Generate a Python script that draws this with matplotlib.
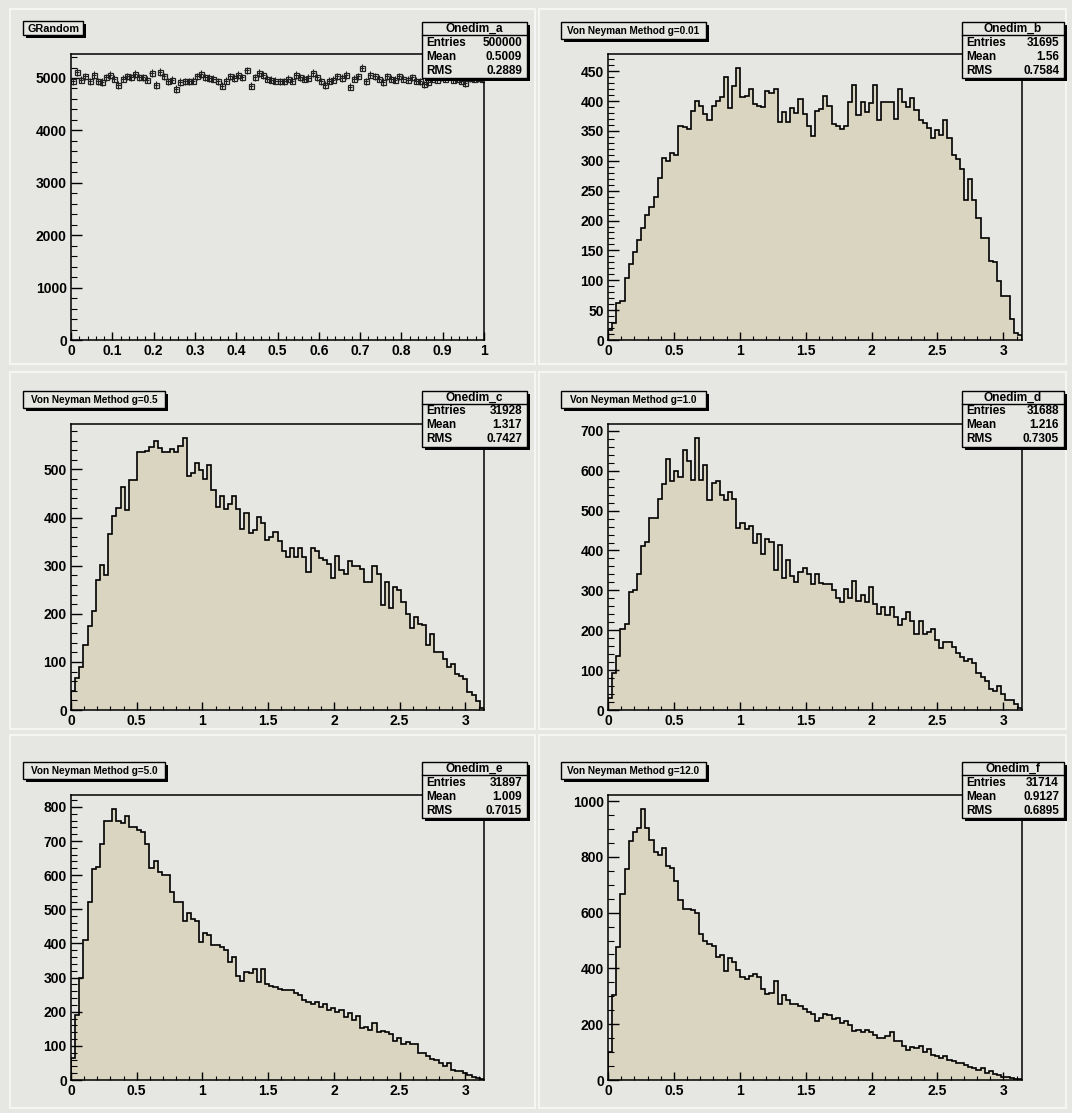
import numpy as np
import matplotlib
matplotlib.use('Agg')
import matplotlib.pyplot as plt
from matplotlib.patches import Rectangle
from matplotlib.ticker import MultipleLocator, FuncFormatter

plt.rcParams['font.family'] = ['Liberation Sans', 'DejaVu Sans']
plt.rcParams['font.weight'] = 'bold'

W, H = 1072, 1113
BG = '#e6e6e3'
FILL = '#d9d5c0'

# ---------------- data (bin contents) ----------------
onedim_a = [4934, 5119, 4967, 5033, 4934, 5053, 4934, 4921, 5013, 5053,
            4987, 4868, 4987, 5033, 5013, 5079, 5013, 5013, 4967, 5099,
            4868, 5119, 5033, 4934, 4967, 4789, 4921, 4934, 4934, 4947,
            5033, 5079, 5013, 5000, 4987, 4934, 4855, 4947, 5033, 5000,
            5053, 5013, 5145, 4855, 5013, 5099, 5053, 4987, 4967, 4947,
            4934, 4934, 4987, 4947, 5053, 5013, 4987, 5000, 5099, 5013,
            4934, 4868, 4947, 4967, 5033, 5000, 5053, 4835, 4987, 5033,
            5198, 4934, 5066, 5033, 4987, 4921, 5033, 4987, 4967, 5033,
            4987, 4967, 5013, 4947, 4934, 4881, 4921, 4987, 4967, 5013,
            4987, 5033, 4967, 4987, 4947, 4901, 5000, 4987, 5000, 4987]

onedim_b = [17, 29, 62, 66, 103, 128, 148, 168, 188, 209,
            222, 239, 272, 305, 299, 313, 309, 359, 357, 353,
            384, 400, 391, 378, 369, 391, 400, 407, 440, 388,
            425, 456, 407, 408, 420, 395, 391, 390, 417, 414,
            420, 365, 381, 365, 388, 380, 404, 378, 359, 342,
            384, 387, 408, 392, 361, 358, 353, 359, 398, 427,
            376, 399, 382, 397, 427, 368, 398, 399, 399, 370,
            420, 399, 390, 405, 385, 369, 363, 355, 338, 352,
            343, 369, 338, 310, 303, 287, 234, 270, 234, 205,
            170, 170, 132, 130, 98, 74, 74, 35, 12, 8]

onedim_c = [40, 66, 90, 136, 175, 205, 271, 302, 280, 366,
            404, 420, 464, 416, 477, 477, 536, 536, 539, 546,
            559, 544, 536, 536, 543, 536, 549, 566, 487, 493,
            514, 499, 479, 509, 457, 421, 444, 418, 429, 444,
            418, 377, 409, 368, 373, 401, 389, 354, 359, 370,
            351, 331, 318, 337, 318, 337, 318, 287, 337, 330,
            316, 311, 304, 275, 321, 291, 282, 309, 299, 299,
            294, 267, 267, 299, 282, 218, 266, 211, 256, 250,
            225, 200, 170, 194, 179, 177, 136, 157, 120, 120,
            107, 89, 96, 75, 71, 64, 38, 32, 18, 4]

onedim_d = [30, 92, 135, 203, 216, 297, 302, 341, 410, 422,
            481, 481, 530, 567, 629, 574, 600, 583, 653, 624,
            577, 683, 577, 614, 526, 569, 575, 540, 526, 546,
            530, 457, 468, 454, 461, 418, 442, 392, 428, 422,
            351, 413, 330, 377, 336, 321, 345, 356, 342, 315,
            342, 319, 315, 315, 302, 282, 270, 304, 282, 323,
            274, 289, 272, 308, 265, 241, 259, 239, 259, 234,
            213, 228, 246, 222, 190, 222, 190, 196, 204, 175,
            155, 170, 170, 158, 142, 134, 123, 127, 118, 92,
            84, 72, 52, 47, 60, 39, 26, 26, 15, 4]

onedim_e = [65, 190, 298, 410, 520, 618, 625, 690, 760, 760,
            795, 760, 752, 772, 740, 740, 732, 725, 692, 622,
            642, 610, 600, 600, 550, 520, 520, 465, 490, 472,
            465, 405, 430, 425, 395, 395, 390, 382, 345, 360,
            305, 290, 315, 312, 325, 288, 325, 280, 275, 272,
            267, 265, 265, 263, 255, 250, 235, 228, 223, 228,
            215, 223, 205, 212, 198, 205, 185, 195, 175, 187,
            152, 155, 145, 167, 140, 144, 140, 135, 115, 122,
            105, 110, 105, 105, 78, 80, 70, 62, 60, 50,
            40, 50, 30, 25, 25, 20, 15, 10, 5, 2]

onedim_f = [100, 303, 475, 666, 755, 855, 890, 902, 973, 902,
            859, 816, 806, 831, 767, 761, 712, 644, 613, 613,
            610, 598, 522, 499, 487, 482, 442, 448, 389, 436,
            423, 393, 371, 362, 374, 380, 368, 325, 307, 313,
            356, 274, 303, 286, 274, 274, 264, 254, 245, 236,
            212, 224, 236, 233, 217, 221, 205, 212, 196, 175,
            180, 172, 178, 172, 160, 151, 151, 156, 172, 141,
            139, 123, 107, 117, 114, 123, 102, 110, 90, 86,
            80, 86, 70, 67, 61, 61, 55, 45, 43, 37,
            43, 25, 31, 21, 18, 12, 9, 6, 2, 2]

titles = ['GRandom', 'Von Neyman Method g=0.01', 'Von Neyman Method g=0.5',
          'Von Neyman Method g=1.0', 'Von Neyman Method g=5.0',
          'Von Neyman Method g=12.0']
names = ['Onedim_a', 'Onedim_b', 'Onedim_c', 'Onedim_d', 'Onedim_e', 'Onedim_f']
entries = ['500000', '31695', '31928', '31688', '31897', '31714']
means = ['0.5009', '1.56', '1.317', '1.216', '1.009', '0.9127']
rmss = ['0.2889', '0.7584', '0.7427', '0.7305', '0.7015', '0.6895']

series = [onedim_a, onedim_b, onedim_c, onedim_d, onedim_e, onedim_f]
xmaxs = [1.0, np.pi, np.pi, np.pi, np.pi, np.pi]
ymajor = [1000, 50, 100, 100, 100, 200]
yminor = [200, 10, 20, 20, 20, 50]
xmajor = [0.1, 0.5, 0.5, 0.5, 0.5, 0.5]
xminor = [0.02, 0.1, 0.1, 0.1, 0.1, 0.1]

# ---------------- layout (pixels) ----------------
cols_plot = [(71, 484), (608, 1022)]
rows_plot = [(54, 340), (424, 710), (795, 1080)]
cols_pad = [(10, 535), (539, 1066)]
rows_pad = [(9, 364), (372, 729), (735, 1108)]
cols_title = [(23, 165), (561, 706)]
rows_title = [(22, 39), (391, 408), (762, 779)]
cols_stat = [(422, 527), (962, 1064)]
rows_stat = [22, 391, 762]

fig = plt.figure(figsize=(W / 100, H / 100), dpi=100, facecolor=BG)

bg = fig.add_axes([0, 0, 1, 1], zorder=0)
bg.set_xlim(0, W)
bg.set_ylim(H, 0)
bg.axis('off')
for (px0, px1) in cols_pad:
    for (py0, py1) in rows_pad:
        bg.add_patch(Rectangle((px0, py0), px1 - px0, py1 - py0, fill=False,
                               ec='#f7f7f5', lw=1.3))

ov = fig.add_axes([0, 0, 1, 1], zorder=10)
ov.set_xlim(0, W)
ov.set_ylim(H, 0)
ov.axis('off')
ov.patch.set_visible(False)

fmt = FuncFormatter(lambda v, p: '%g' % round(v, 6))

for i, vals in enumerate(series):
    r, c = divmod(i, 2)
    x0, x1 = cols_plot[c]
    y0, y1 = rows_plot[r]
    ax = fig.add_axes([x0 / W, 1 - y1 / H, (x1 - x0) / W, (y1 - y0) / H], zorder=2)
    ax.set_facecolor(BG)
    vals = np.asarray(vals, dtype=float)
    edges = np.linspace(0, xmaxs[i], len(vals) + 1)
    if i == 0:
        xc = 0.5 * (edges[:-1] + edges[1:])
        ax.errorbar(xc, vals, xerr=0.5 * (edges[1] - edges[0]), yerr=np.sqrt(vals),
                    fmt='s', ms=3.6, mfc='none', mec='#202020', mew=0.9,
                    ecolor='#202020', elinewidth=0.8, capsize=0)
    else:
        ax.stairs(vals, edges, fill=True, color=FILL, lw=0)
        ax.stairs(vals, edges, fill=False, baseline=0, color='black', lw=1.2)
    ax.set_xlim(0, xmaxs[i])
    ax.set_ylim(0, 1.05 * vals.max())
    ax.yaxis.set_major_locator(MultipleLocator(ymajor[i]))
    ax.yaxis.set_minor_locator(MultipleLocator(yminor[i]))
    ax.xaxis.set_major_locator(MultipleLocator(xmajor[i]))
    ax.xaxis.set_minor_locator(MultipleLocator(xminor[i]))
    ax.xaxis.set_major_formatter(fmt)
    ax.yaxis.set_major_formatter(fmt)
    ax.tick_params(axis='y', which='major', direction='in', length=8, width=1.0,
                   labelsize=10, pad=3)
    ax.tick_params(axis='y', which='minor', direction='in', length=4, width=0.8)
    ax.tick_params(axis='x', which='major', direction='in', length=6, width=1.0,
                   labelsize=10, pad=3)
    ax.tick_params(axis='x', which='minor', direction='in', length=3, width=0.8)
    for lab in ax.get_xticklabels() + ax.get_yticklabels():
        lab.set_fontweight('bold')
    for sp in ax.spines.values():
        sp.set_linewidth(1.1)

    # title box
    tx0, tx1 = cols_title[c]
    ty0, ty1 = rows_title[r]
    fs_t = 7.2
    if i == 0:
        tx1 = tx0 + 60
        ty0, ty1 = 21, 35
        fs_t = 7.8
    ov.add_patch(Rectangle((tx0 + 2.5, ty0 + 2.5), tx1 - tx0, ty1 - ty0,
                           fc='black', ec='none'))
    ov.add_patch(Rectangle((tx0, ty0), tx1 - tx0, ty1 - ty0,
                           fc=BG, ec='black', lw=1.0))
    ov.text((tx0 + tx1) / 2, (ty0 + ty1) / 2 + 0.5, titles[i], ha='center',
            va='center', fontsize=fs_t, fontweight='bold')

    # stats box
    sx0, sx1 = cols_stat[c]
    sy0 = rows_stat[r]
    sh = 56
    ov.add_patch(Rectangle((sx0 + 3, sy0 + 3), sx1 - sx0, sh, fc='black', ec='none'))
    ov.add_patch(Rectangle((sx0, sy0), sx1 - sx0, sh, fc=BG, ec='black', lw=1.0))
    ov.plot([sx0, sx1], [sy0 + 13, sy0 + 13], color='black', lw=1.0)
    ov.text((sx0 + sx1) / 2, sy0 + 6.5, names[i], ha='center', va='center',
            fontsize=8.6, fontweight='bold')
    labels = ['Entries', 'Mean', 'RMS']
    values = [entries[i], means[i], rmss[i]]
    for k in range(3):
        yy = sy0 + 20.5 + 14 * k
        ov.text(sx0 + 4, yy, labels[k], ha='left', va='center', fontsize=8.5,
                fontweight='bold')
        ov.text(sx1 - 5, yy, values[k], ha='right', va='center', fontsize=8.5,
                fontweight='bold')

fig.savefig('out.png', dpi=100, facecolor=BG)
